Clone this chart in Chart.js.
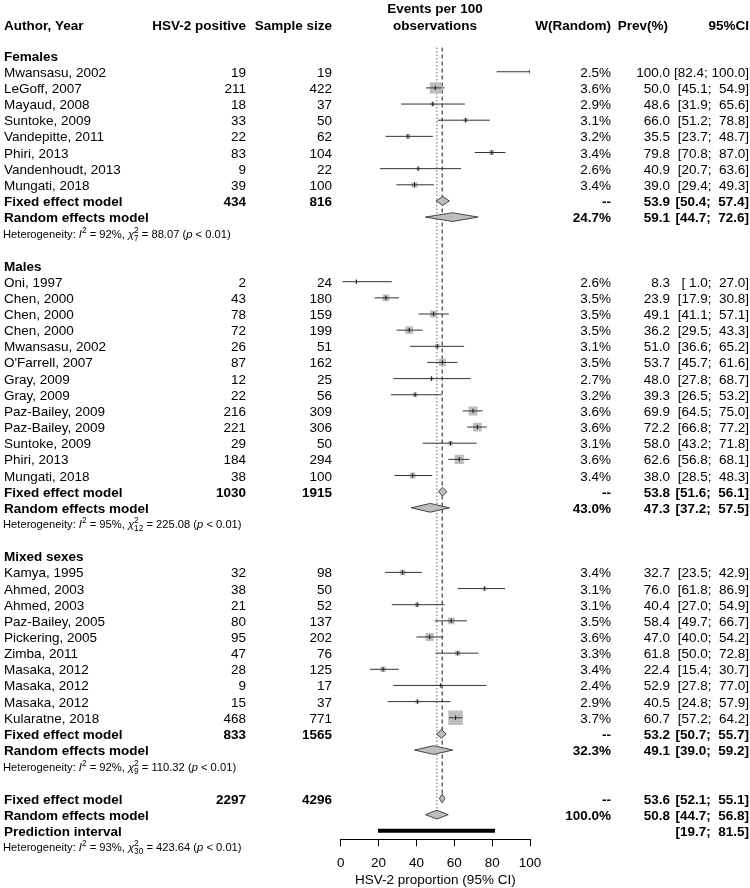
<!DOCTYPE html>
<html>
<head>
<meta charset="utf-8">
<title>HSV-2 prevalence forest plot</title>
<script src="https://cdn.jsdelivr.net/npm/chart.js@4.4.1/dist/chart.umd.min.js"></script>
<style>
  body { margin: 0; background: #fff; }
  #wrap { width: 750px; height: 888px; }
</style>
</head>
<body>
<div id="wrap"><canvas id="forest" width="750" height="888"></canvas></div>
<script>
// ---- data ----
const groupNames = ['Females', 'Males', 'Mixed sexes'];
const studyGroup = [0, 0, 0, 0, 0, 0, 0, 0,
                    1, 1, 1, 1, 1, 1, 1, 1, 1, 1, 1, 1, 1,
                    2, 2, 2, 2, 2, 2, 2, 2, 2, 2];
const authors = ['Mwansasu, 2002', 'LeGoff, 2007', 'Mayaud, 2008', 'Suntoke, 2009', 'Vandepitte, 2011',
  'Phiri, 2013', 'Vandenhoudt, 2013', 'Mungati, 2018',
  'Oni, 1997', 'Chen, 2000', 'Chen, 2000', 'Chen, 2000', 'Mwansasu, 2002', "O'Farrell, 2007",
  'Gray, 2009', 'Gray, 2009', 'Paz-Bailey, 2009', 'Paz-Bailey, 2009', 'Suntoke, 2009', 'Phiri, 2013', 'Mungati, 2018',
  'Kamya, 1995', 'Ahmed, 2003', 'Ahmed, 2003', 'Paz-Bailey, 2005', 'Pickering, 2005', 'Zimba, 2011',
  'Masaka, 2012', 'Masaka, 2012', 'Masaka, 2012', 'Kularatne, 2018'];
const positives = [19, 211, 18, 33, 22, 83, 9, 39,
  2, 43, 78, 72, 26, 87, 12, 22, 216, 221, 29, 184, 38,
  32, 38, 21, 80, 95, 47, 28, 9, 15, 468];
const sampleSizes = [19, 422, 37, 50, 62, 104, 22, 100,
  24, 180, 159, 199, 51, 162, 25, 56, 309, 306, 50, 294, 100,
  98, 50, 52, 137, 202, 76, 125, 17, 37, 771];
const weightRandom = [2.5, 3.6, 2.9, 3.1, 3.2, 3.4, 2.6, 3.4,
  2.6, 3.5, 3.5, 3.5, 3.1, 3.5, 2.7, 3.2, 3.6, 3.6, 3.1, 3.6, 3.4,
  3.4, 3.1, 3.1, 3.5, 3.6, 3.3, 3.4, 2.4, 2.9, 3.7];
const prevalence = [100.0, 50.0, 48.6, 66.0, 35.5, 79.8, 40.9, 39.0,
  8.3, 23.9, 49.1, 36.2, 51.0, 53.7, 48.0, 39.3, 69.9, 72.2, 58.0, 62.6, 38.0,
  32.7, 76.0, 40.4, 58.4, 47.0, 61.8, 22.4, 52.9, 40.5, 60.7];
const ciLower = [82.4, 45.1, 31.9, 51.2, 23.7, 70.8, 20.7, 29.4,
  1.0, 17.9, 41.1, 29.5, 36.6, 45.7, 27.8, 26.5, 64.5, 66.8, 43.2, 56.8, 28.5,
  23.5, 61.8, 27.0, 49.7, 40.0, 50.0, 15.4, 27.8, 24.8, 57.2];
const ciUpper = [100.0, 54.9, 65.6, 78.8, 48.7, 87.0, 63.6, 49.3,
  27.0, 30.8, 57.1, 43.3, 65.2, 61.6, 68.7, 53.2, 75.0, 77.2, 71.8, 68.1, 48.3,
  42.9, 86.9, 54.9, 66.7, 54.2, 72.8, 30.7, 77.0, 57.9, 64.2];

// subgroup summaries
const fixedEvents = [434, 1030, 833];
const fixedTotal = [816, 1915, 1565];
const fixedPrev = [53.9, 53.8, 53.2];
const fixedLower = [50.4, 51.6, 50.7];
const fixedUpper = [57.4, 56.1, 55.7];
const randomWeight = [24.7, 43.0, 32.3];
const randomPrev = [59.1, 47.3, 49.1];
const randomLower = [44.7, 37.2, 39.0];
const randomUpper = [72.6, 57.5, 59.2];
const hetI2 = [92, 95, 92];
const hetDf = [7, 12, 9];
const hetQ = ['88.07', '225.08', '110.32'];

// overall
const overallCounts = [2297, 4296];
const overallFixed = [53.6, 52.1, 55.1];
const overallRandom = [50.8, 44.7, 56.8];
const overallWeight = 100.0;
const predInterval = [19.7, 81.5];
const overallHet = [93, 30, '423.64'];

const xTicks = [0, 20, 40, 60, 80, 100];

// ---- layout constants ----
const FONT = '"Liberation Sans", Arial, Helvetica, sans-serif';
const FS = 13.5;
const ROW0 = 55.6, ROWH = 16.15, AXIS_H = 48.7, CANVAS_H = 888;
const AREA_H = CANVAS_H - AXIS_H;
const COL = { author: 4, events: 246, total: 332, weight: 611, prev: 670, ci: 749 };

// rows: group header, studies, fixed, random, heterogeneity, blank
const rows = [];
const studyRow = [];
let r = 0;
groupNames.forEach((g, gi) => {
  rows.push({ row: r++, type: 'group', gi });
  authors.forEach((a, i) => {
    if (studyGroup[i] === gi) { studyRow[i] = r; rows.push({ row: r++, type: 'study', i }); }
  });
  rows.push({ row: r++, type: 'fixed', gi });
  rows.push({ row: r++, type: 'random', gi });
  rows.push({ row: r++, type: 'het', gi });
  r++;
});
const overallFixedRow = r++;
const overallRandomRow = r++;
const predRow = r++;
const overallHetRow = r++;

// ---- datasets ----
const ciSegments = [];
prevalence.forEach((p, i) => {
  ciSegments.push({ x: ciLower[i], y: studyRow[i] }, { x: ciUpper[i], y: studyRow[i] }, { x: null, y: null });
});
const squares = prevalence.map((p, i) => ({ x: p, y: studyRow[i] }));
// square side ~ sqrt of inverse-variance weight
const squareRadius = positives.map((e, i) => {
  const w = e * (sampleSizes[i] - e) / sampleSizes[i];
  return w > 0 ? (Math.sqrt(w) * 1.02 + 0.8) / Math.SQRT2 : 0;
});

function diamond(est, lo, hi, row, label) {
  const h = 0.27;
  return {
    label,
    data: [{ x: lo, y: row }, { x: est, y: row - h }, { x: hi, y: row }, { x: est, y: row + h }, { x: lo, y: row }],
    showLine: true, fill: 'shape', pointRadius: 0,
    backgroundColor: '#bebebe', borderColor: '#444', borderWidth: 1, order: 1
  };
}

const datasets = [
  {
    label: 'random ref',
    data: [{ x: overallRandom[0], y: -0.5 }, { x: overallRandom[0], y: overallRandomRow }],
    showLine: true, pointRadius: 0, borderColor: '#666', borderWidth: 1, borderDash: [1.5, 2], order: 6
  },
  {
    label: 'fixed ref',
    data: [{ x: overallFixed[0], y: -0.5 }, { x: overallFixed[0], y: overallFixedRow }],
    showLine: true, pointRadius: 0, borderColor: '#111', borderWidth: 1, borderDash: [4, 3], order: 5
  },
  {
    label: 'weights',
    data: squares, pointStyle: 'rect', pointRadius: squareRadius,
    backgroundColor: '#bebebe', borderWidth: 0, order: 4
  },
  {
    label: 'CI',
    data: ciSegments, showLine: true, spanGaps: false, pointRadius: 0,
    borderColor: '#333', borderWidth: 1, order: 3
  },
  {
    label: 'estimate',
    data: squares, pointStyle: 'line', rotation: 90, pointRadius: 2.2,
    borderColor: '#111', borderWidth: 1, order: 2
  },
  {
    label: 'prediction',
    data: [{ x: predInterval[0], y: predRow }, { x: predInterval[1], y: predRow }],
    showLine: true, pointRadius: 0, borderColor: '#000', borderWidth: 4, borderCapStyle: 'butt', order: 1
  }
];
groupNames.forEach((g, gi) => {
  const fr = rows.find(o => o.type === 'fixed' && o.gi === gi).row;
  const rr = rows.find(o => o.type === 'random' && o.gi === gi).row;
  datasets.push(diamond(fixedPrev[gi], fixedLower[gi], fixedUpper[gi], fr, g + ' fixed'));
  datasets.push(diamond(randomPrev[gi], randomLower[gi], randomUpper[gi], rr, g + ' random'));
});
datasets.push(diamond(overallFixed[0], overallFixed[1], overallFixed[2], overallFixedRow, 'overall fixed'));
datasets.push(diamond(overallRandom[0], overallRandom[1], overallRandom[2], overallRandomRow, 'overall random'));

// ---- table text ----
function pad(s, n) { while (s.length < n) s = ' ' + s; return s; }
function fmtCI(lo, hi) { return '[' + pad(lo.toFixed(1), 4) + '; ' + pad(hi.toFixed(1), 5) + ']'; }
function font(size, weight, style) { return (style || 'normal') + ' ' + (weight || 'normal') + ' ' + size + 'px ' + FONT; }

function text(ctx, t, x, y, align, bold) {
  ctx.font = font(FS, bold ? 'bold' : 'normal');
  ctx.textAlign = align;
  ctx.fillText(t, x, y);
}

function drawHet(ctx, x, y, i2, df, q) {
  const fs = 11.2, small = 8.3;
  let cx = x;
  ctx.textAlign = 'left';
  const put = (t, f, dy) => {
    ctx.font = f;
    ctx.fillText(t, cx, y + (dy || 0));
    cx += ctx.measureText(t).width;
  };
  put('Heterogeneity: ', font(fs));
  put('I', font(fs, 'normal', 'italic'));
  put('2', font(small), -5);
  put(' = ' + i2 + '%, ', font(fs));
  put('\u03C7', font(fs, 'normal', 'italic'));
  ctx.font = font(small);
  ctx.fillText('2', cx, y - 5);
  ctx.fillText(String(df), cx, y + 3);
  cx += Math.max(ctx.measureText('2').width, ctx.measureText(String(df)).width);
  put(' = ' + q + ' (', font(fs));
  put('p', font(fs, 'normal', 'italic'));
  put(' < 0.01)', font(fs));
}

const tablePlugin = {
  id: 'forestTable',
  afterDraw(chart) {
    const ctx = chart.ctx;
    const ys = chart.scales.y;
    const base = row => ys.getPixelForValue(row) + 5;
    ctx.save();
    ctx.fillStyle = '#000';
    ctx.textBaseline = 'alphabetic';

    // column headers
    text(ctx, 'Author, Year', COL.author, 30, 'left', true);
    text(ctx, 'HSV-2 positive', COL.events, 30, 'right', true);
    text(ctx, 'Sample size', COL.total, 30, 'right', true);
    text(ctx, 'Events per 100', 435, 13, 'center', true);
    text(ctx, 'observations', 435, 30, 'center', true);
    text(ctx, 'W(Random)', COL.weight, 30, 'right', true);
    text(ctx, 'Prev(%)', 668, 30, 'right', true);
    text(ctx, '95%CI', COL.ci, 30, 'right', true);

    rows.forEach(o => {
      const y = base(o.row);
      if (o.type === 'group') {
        text(ctx, groupNames[o.gi], COL.author, y, 'left', true);
      } else if (o.type === 'study') {
        const i = o.i;
        text(ctx, authors[i], COL.author, y, 'left');
        text(ctx, String(positives[i]), COL.events, y, 'right');
        text(ctx, String(sampleSizes[i]), COL.total, y, 'right');
        text(ctx, weightRandom[i].toFixed(1) + '%', COL.weight, y, 'right');
        text(ctx, prevalence[i].toFixed(1), COL.prev, y, 'right');
        text(ctx, fmtCI(ciLower[i], ciUpper[i]), COL.ci, y, 'right');
      } else if (o.type === 'fixed') {
        const g = o.gi;
        text(ctx, 'Fixed effect model', COL.author, y, 'left', true);
        text(ctx, String(fixedEvents[g]), COL.events, y, 'right', true);
        text(ctx, String(fixedTotal[g]), COL.total, y, 'right', true);
        text(ctx, '--', COL.weight, y, 'right', true);
        text(ctx, fixedPrev[g].toFixed(1), COL.prev, y, 'right', true);
        text(ctx, fmtCI(fixedLower[g], fixedUpper[g]), COL.ci, y, 'right', true);
      } else if (o.type === 'random') {
        const g = o.gi;
        text(ctx, 'Random effects model', COL.author, y, 'left', true);
        text(ctx, randomWeight[g].toFixed(1) + '%', COL.weight, y, 'right', true);
        text(ctx, randomPrev[g].toFixed(1), COL.prev, y, 'right', true);
        text(ctx, fmtCI(randomLower[g], randomUpper[g]), COL.ci, y, 'right', true);
      } else if (o.type === 'het') {
        drawHet(ctx, 3, y - 0.5, hetI2[o.gi], hetDf[o.gi], hetQ[o.gi]);
      }
    });

    let y = base(overallFixedRow);
    text(ctx, 'Fixed effect model', COL.author, y, 'left', true);
    text(ctx, String(overallCounts[0]), COL.events, y, 'right', true);
    text(ctx, String(overallCounts[1]), COL.total, y, 'right', true);
    text(ctx, '--', COL.weight, y, 'right', true);
    text(ctx, overallFixed[0].toFixed(1), COL.prev, y, 'right', true);
    text(ctx, fmtCI(overallFixed[1], overallFixed[2]), COL.ci, y, 'right', true);

    y = base(overallRandomRow);
    text(ctx, 'Random effects model', COL.author, y, 'left', true);
    text(ctx, overallWeight.toFixed(1) + '%', COL.weight, y, 'right', true);
    text(ctx, overallRandom[0].toFixed(1), COL.prev, y, 'right', true);
    text(ctx, fmtCI(overallRandom[1], overallRandom[2]), COL.ci, y, 'right', true);

    y = base(predRow);
    text(ctx, 'Prediction interval', COL.author, y, 'left', true);
    text(ctx, fmtCI(predInterval[0], predInterval[1]), COL.ci, y, 'right', true);

    drawHet(ctx, 3, base(overallHetRow) - 0.5, overallHet[0], overallHet[1], overallHet[2]);
    ctx.restore();
  }
};

Chart.defaults.font.family = FONT;

new Chart(document.getElementById('forest'), {
  type: 'scatter',
  data: { datasets },
  options: {
    responsive: false,
    animation: false,
    events: [],
    layout: { autoPadding: false, padding: { left: 340.7, right: 220, top: 0, bottom: 0 } },
    plugins: { legend: { display: false }, tooltip: { enabled: false } },
    scales: {
      x: {
        type: 'linear', position: 'bottom', min: 0, max: 100,
        afterBuildTicks: s => { s.ticks = xTicks.map(v => ({ value: v })); },
        afterFit: s => { s.height = AXIS_H; },
        ticks: { color: '#000', font: { size: FS }, padding: 8.6, maxRotation: 0, autoSkip: false },
        grid: { drawOnChartArea: false, drawTicks: true, tickLength: 7, color: '#000', lineWidth: 1 },
        border: { display: true, color: '#000', width: 1 },
        title: { display: true, text: 'HSV-2 proportion (95% CI)', color: '#000', font: { size: FS }, padding: { top: 0, bottom: 0 } }
      },
      y: {
        type: 'linear', display: false, reverse: true,
        min: -ROW0 / ROWH, max: (AREA_H - ROW0) / ROWH
      }
    }
  },
  plugins: [tablePlugin]
});
</script>
</body>
</html>
